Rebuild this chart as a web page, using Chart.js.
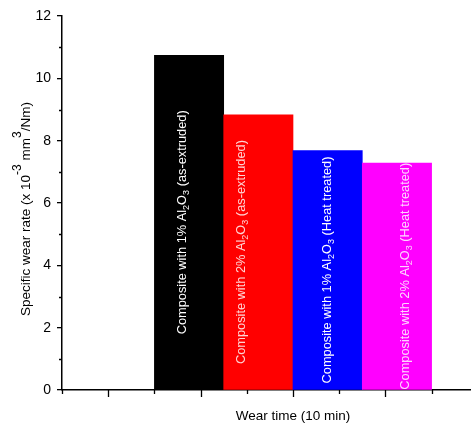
<!DOCTYPE html>
<html>
<head>
<meta charset="utf-8">
<script src="https://cdn.jsdelivr.net/npm/chart.js@4"></script>
<style>
body { margin: 0; background: #fff; overflow: hidden; }
#wrap { position: absolute; left: 0; top: 0; width: 530px; height: 424px; }
</style>
</head>
<body>
<div id="wrap"><canvas id="wearChart"></canvas></div>
<script>
// values
var barLabels = [
    'Composite with 1% Al₂O₃ (as-extruded)',
    'Composite with 2% Al₂O₃ (as-extruded)',
    'Composite with 1% Al₂O₃ (Heat treated)',
    'Composite with 2% Al₂O₃ (Heat treated)'
];
var wearRate = [10.74, 8.83, 7.68, 7.28];
var barColors = ['#000000', '#ff0000', '#0000ff', '#ff00ff'];
var textColors = ['#ffffff', '#ffd4d4', '#ffffff', '#ffd4ff'];
var yTicks = [0, 2, 4, 6, 8, 10, 12];
var yTitle = 'Specific wear rate (x 10⁻³ mm³/Nm)';
var xTitle = 'Wear time (10 min)';

// x axis: one bar per index, axis ticks every 2/3 of a bar, 10 intervals
var xStep = 2 / 3;
var xCount = 10;
var xMin = -11 / 6;
var xMax = xMin + xCount * xStep;
var labelShift = [-7, -17, 0, 9];

var FONT = '"Liberation Sans", Arial, sans-serif';

// split text into normal / subscript / superscript runs
function splitRich(txt) {
    var subs = '₀₁₂₃₄₅₆₇₈₉';
    var sups = '⁰¹²³⁴⁵⁶⁷⁸⁹';
    var parts = [];
    for (var i = 0; i < txt.length; i++) {
        var c = txt[i], kind = 'n', ch = c;
        if (subs.indexOf(c) >= 0) { kind = 'sub'; ch = String(subs.indexOf(c)); }
        else if (sups.indexOf(c) >= 0) { kind = 'sup'; ch = String(sups.indexOf(c)); }
        else if (c === '⁻') { kind = 'sup'; ch = '-'; }
        var last = parts[parts.length - 1];
        if (last && last.kind === kind) last.t += ch;
        else parts.push({ t: ch, kind: kind });
    }
    return parts;
}

// draws rotated text centred on (cx, cy), reading bottom to top
function drawRotated(ctx, txt, cx, cy, color, size, small, subDrop, supRise) {
    var parts = splitRich(txt);
    var total = 0;
    parts.forEach(function (p) {
        ctx.font = (p.kind === 'n' ? size : small) + 'px ' + FONT;
        p.w = ctx.measureText(p.t).width;
        total += p.w;
    });
    ctx.save();
    ctx.translate(cx, cy);
    ctx.rotate(-Math.PI / 2);
    ctx.fillStyle = color;
    ctx.textBaseline = 'middle';
    ctx.textAlign = 'left';
    var pos = -total / 2;
    parts.forEach(function (p) {
        ctx.font = (p.kind === 'n' ? size : small) + 'px ' + FONT;
        var off = p.kind === 'sub' ? subDrop : (p.kind === 'sup' ? -supRise : 0);
        ctx.fillText(p.t, pos, off);
        pos += p.w;
    });
    ctx.restore();
}

var tickMarks = {
    id: 'tickMarks',
    afterDraw: function (chart) {
        var ctx = chart.ctx;
        var x = chart.scales.x, y = chart.scales.y;
        ctx.save();
        ctx.strokeStyle = '#000';
        ctx.lineWidth = 1.3;
        ctx.beginPath();
        for (var k = 0; k <= xCount; k++) {
            var px = Math.round(x.getPixelForValue(xMin + k * xStep)) + 0.5;
            var len = k % 2 ? 7 : 4;
            ctx.moveTo(px, x.top);
            ctx.lineTo(px, x.top + len);
        }
        for (var v = 1; v < 12; v += 2) {
            var py = Math.round(y.getPixelForValue(v)) + 0.5;
            ctx.moveTo(y.right, py);
            ctx.lineTo(y.right - 3, py);
        }
        ctx.stroke();
        ctx.restore();
        // y axis title with real superscripts
        var area = chart.chartArea;
        drawRotated(ctx, yTitle, 26, (area.top + area.bottom) / 2 + 6, '#000', 13.5, 12, 4, 8);
    }
};

var barText = {
    id: 'barText',
    afterDatasetsDraw: function (chart) {
        var ctx = chart.ctx;
        var meta = chart.getDatasetMeta(0);
        meta.data.forEach(function (bar, i) {
            drawRotated(ctx, barLabels[i], bar.x + labelShift[i], (bar.y + bar.base) / 2,
                textColors[i], 12.8, 9, 4, 6);
        });
    }
};

new Chart(document.getElementById('wearChart'), {
    type: 'bar',
    data: {
        datasets: [{
            data: wearRate.map(function (v, i) { return { x: i, y: v }; }),
            backgroundColor: barColors,
            borderWidth: 0,
            barPercentage: 1,
            categoryPercentage: 1
        }]
    },
    options: {
        responsive: true,
        maintainAspectRatio: false,
        animation: false,
        layout: { padding: { left: 0, right: 6, top: 16, bottom: 0 } },
        plugins: {
            legend: { display: false },
            tooltip: { enabled: false }
        },
        scales: {
            x: {
                type: 'linear',
                min: xMin,
                max: xMax,
                offset: false,
                grid: { display: false },
                border: { display: true, color: '#000', width: 1.5 },
                ticks: { display: false },
                title: {
                    display: true,
                    text: xTitle,
                    color: '#000',
                    font: { family: FONT, size: 13.5 },
                    padding: { top: 0, bottom: 0 }
                },
                afterFit: function (scale) { scale.height = 34; }
            },
            y: {
                min: 0,
                max: 12,
                afterBuildTicks: function (scale) {
                    scale.ticks = yTicks.map(function (v) { return { value: v }; });
                },
                grid: { drawOnChartArea: false, tickLength: 5, color: '#000', lineWidth: 1.3 },
                border: { display: true, color: '#000', width: 1.5 },
                ticks: {
                    color: '#000',
                    padding: 6,
                    font: { family: FONT, size: 14 }
                },
                title: { display: false },
                afterFit: function (scale) { scale.width = 62; }
            }
        }
    },
    plugins: [tickMarks, barText]
});
</script>
</body>
</html>
